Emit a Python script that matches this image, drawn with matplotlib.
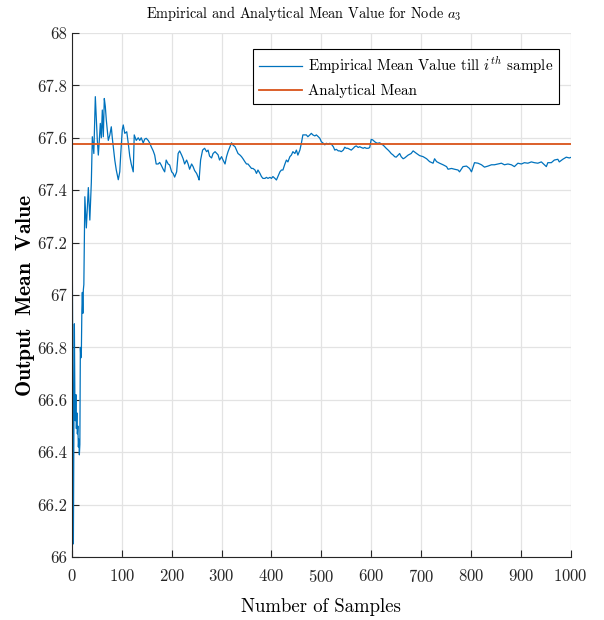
import matplotlib
matplotlib.use("Agg")
import matplotlib.pyplot as plt
from matplotlib.ticker import FuncFormatter, MultipleLocator

plt.rcParams['font.family'] = 'serif'
plt.rcParams['font.serif'] = ['cmr10']
plt.rcParams['mathtext.fontset'] = 'cm'
plt.rcParams['axes.formatter.use_mathtext'] = True

# running mean of node a3 output, read at selected sample indices
samples = [1, 2, 3, 4, 5, 6, 7, 8, 9, 10, 11, 12, 13, 14, 15, 16, 17, 18, 19, 20,
           21, 22, 23, 24, 26, 29, 33, 36, 39, 41, 44, 47, 51, 53, 55, 57, 59, 61, 63, 65,
           67, 69, 71, 73, 76, 79, 81, 83, 86, 89, 93, 96, 98, 101, 103, 106, 110, 113, 116, 119,
           123, 125, 129, 133, 136, 139, 143, 146, 149, 153, 156, 159, 163, 166, 169, 173, 176, 179, 183, 186,
           189, 193, 196, 200, 203, 206, 210, 213, 216, 220, 223, 226, 230, 233, 236, 240, 243, 246, 250, 253,
           255, 258, 262, 266, 270, 273, 276, 280, 283, 287, 293, 296, 300, 303, 307, 310, 313, 317, 320, 323,
           327, 330, 333, 337, 340, 343, 347, 350, 353, 357, 360, 363, 367, 370, 373, 377, 380, 383, 387, 390,
           393, 397, 400, 403, 407, 410, 413, 417, 420, 423, 427, 430, 433, 437, 440, 443, 447, 450, 453, 457,
           460, 463, 467, 470, 473, 477, 480, 483, 487, 490, 494, 497, 500, 504, 507, 510, 514, 517, 520, 524,
           527, 530, 534, 537, 540, 544, 547, 550, 553, 557, 560, 564, 567, 570, 574, 577, 580, 584, 587, 590,
           594, 597, 600, 603, 607, 610, 613, 617, 620, 624, 627, 630, 634, 637, 640, 644, 647, 650, 654, 657,
           660, 664, 667, 674, 680, 684, 691, 697, 704, 711, 717, 724, 727, 731, 737, 744, 751, 754, 761, 767,
           774, 777, 784, 791, 797, 801, 807, 814, 821, 827, 834, 841, 847, 854, 861, 867, 874, 881, 887, 894,
           901, 907, 914, 921, 927, 934, 941, 947, 951, 954, 961, 967, 974, 977, 984, 991, 997, 1000]
empirical_mean = [67.06, 66.62, 66.05, 66.48, 66.89, 66.60, 66.52, 66.62, 66.49, 66.55, 66.47, 66.50, 66.42, 66.45, 66.39, 66.43, 66.80, 66.76, 66.78, 66.94,
                  67.01, 66.93, 67.02, 67.04, 67.375, 67.256, 67.41, 67.286, 67.43, 67.604, 67.54, 67.757, 67.59, 67.534, 67.59, 67.655, 67.60, 67.706, 67.604, 67.75,
                  67.72, 67.668, 67.63, 67.59, 67.61, 67.642, 67.60, 67.566, 67.515, 67.477, 67.44, 67.47, 67.54, 67.63, 67.649, 67.617, 67.623, 67.579, 67.53, 67.50,
                  67.47, 67.611, 67.59, 67.60, 67.59, 67.60, 67.58, 67.595, 67.598, 67.59, 67.58, 67.566, 67.55, 67.534, 67.50, 67.50, 67.506, 67.496, 67.48, 67.47,
                  67.515, 67.50, 67.496, 67.47, 67.464, 67.45, 67.47, 67.54, 67.55, 67.534, 67.52, 67.50, 67.515, 67.50, 67.48, 67.50, 67.49, 67.475, 67.464, 67.45,
                  67.439, 67.515, 67.553, 67.56, 67.547, 67.553, 67.53, 67.523, 67.54, 67.547, 67.535, 67.515, 67.528, 67.515, 67.50, 67.528, 67.547, 67.566, 67.581, 67.572,
                  67.566, 67.553, 67.54, 67.534, 67.528, 67.52, 67.508, 67.50, 67.50, 67.49, 67.483, 67.483, 67.477, 67.464, 67.477, 67.464, 67.452, 67.445, 67.445, 67.449,
                  67.445, 67.449, 67.445, 67.452, 67.445, 67.439, 67.452, 67.47, 67.477, 67.477, 67.50, 67.515, 67.508, 67.528, 67.534, 67.547, 67.54, 67.553, 67.534, 67.553,
                  67.579, 67.611, 67.611, 67.611, 67.604, 67.611, 67.617, 67.611, 67.607, 67.611, 67.604, 67.598, 67.585, 67.579, 67.573, 67.579, 67.576, 67.579, 67.576, 67.566,
                  67.553, 67.556, 67.55, 67.55, 67.547, 67.553, 67.564, 67.56, 67.56, 67.556, 67.553, 67.56, 67.566, 67.569, 67.563, 67.566, 67.563, 67.56, 67.563, 67.56,
                  67.56, 67.563, 67.594, 67.592, 67.585, 67.581, 67.579, 67.581, 67.576, 67.572, 67.566, 67.56, 67.553, 67.547, 67.54, 67.534, 67.528, 67.526, 67.534, 67.54,
                  67.528, 67.52, 67.523, 67.534, 67.54, 67.55, 67.54, 67.532, 67.528, 67.52, 67.509, 67.503, 67.52, 67.509, 67.503, 67.497, 67.49, 67.48, 67.483, 67.48,
                  67.477, 67.47, 67.49, 67.492, 67.483, 67.47, 67.505, 67.503, 67.497, 67.488, 67.492, 67.497, 67.497, 67.50, 67.503, 67.497, 67.50, 67.497, 67.49, 67.503,
                  67.50, 67.505, 67.503, 67.508, 67.505, 67.503, 67.508, 67.497, 67.49, 67.505, 67.505, 67.515, 67.518, 67.508, 67.518, 67.526, 67.523, 67.525]
analytical_mean = 67.575

fig = plt.figure(figsize=(6.04, 6.2), dpi=100)
ax = fig.add_axes([0.119, 0.1016, 0.826, 0.8452])

ax.plot(samples, empirical_mean, color='#0072BD', lw=0.9,
        label=r'Empirical Mean Value till $i^{th}$ sample')
ax.axhline(analytical_mean, color='#D95319', lw=1.3, label='Analytical Mean')

ax.set_xlim(0, 1000)
ax.set_ylim(66, 68)
ax.xaxis.set_major_locator(MultipleLocator(100))
ax.yaxis.set_major_locator(MultipleLocator(0.2))
ax.yaxis.set_major_formatter(FuncFormatter(lambda v, p: '%g' % round(v, 1)))
ax.grid(True, color='#e3e3e3', lw=0.9)
ax.set_axisbelow(True)
for s in ['top', 'right']:
    ax.spines[s].set_visible(False)
for s in ['left', 'bottom']:
    ax.spines[s].set_color('#262626')
ax.tick_params(direction='in', length=5, labelsize=12, colors='#262626')
ax.tick_params(axis='x', pad=8)

ax.set_title(r'Empirical and Analytical Mean Value for Node $a_3$', fontsize=10.3,
             x=0.465, pad=11)
ax.set_xlabel('Number of Samples', fontsize=13.5, labelpad=9)
ax.set_ylabel(r'$\mathbf{Output\ \ Mean\ \ Value}$', fontsize=15.5, labelpad=0)

leg = ax.legend(loc='upper right', bbox_to_anchor=(0.976, 0.969), fontsize=10.8,
                fancybox=False, framealpha=1, edgecolor='black',
                handlelength=2.9, handletextpad=0.35, borderpad=0.4,
                labelspacing=0.5, borderaxespad=0)
leg.get_frame().set_linewidth(0.8)

fig.savefig('out.png', dpi=100)
